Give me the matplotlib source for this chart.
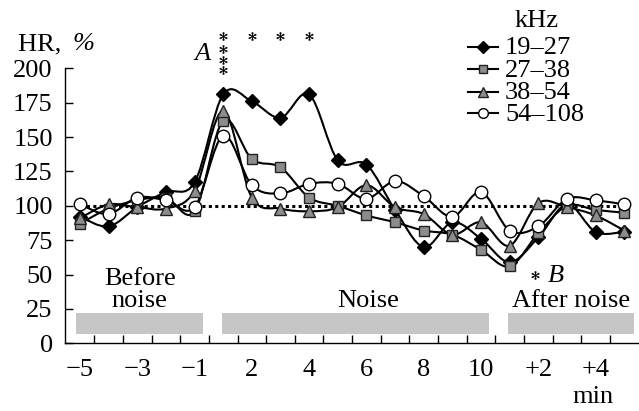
import matplotlib

matplotlib.use("Agg")
import matplotlib.pyplot as plt
import numpy as np
from matplotlib.lines import Line2D
from matplotlib.patches import PathPatch, Rectangle
from matplotlib.path import Path

plt.rcParams["font.family"] = ["Liberation Serif", "DejaVu Serif"]
plt.rcParams["mathtext.fontset"] = "stix"

# time points: 5 before noise, 10 during noise, 5 after noise
minutes = np.arange(20)
tick_pos = [0, 2, 4, 6, 8, 10, 12, 14, 16, 18]
tick_labels = ["\u22125", "\u22123", "\u22121", "2", "4", "6", "8", "10", "+2", "+4"]

hr_19_27 = [92, 85, 99, 110, 117, 181, 176, 164, 181, 133, 130, 97, 70, 88, 76, 59, 77, 101, 81, 81]
hr_27_38 = [87, 98, 104, 106, 96, 162, 134, 128, 106, 100, 93, 88, 82, 79, 68, 56, 80, 100, 97, 95]
hr_38_54 = [91, 101, 99, 98, 111, 169, 106, 98, 96, 99, 115, 99, 94, 79, 88, 71, 102, 99, 93, 82]
hr_54_108 = [101, 94, 106, 104, 99, 151, 115, 109, 116, 116, 105, 118, 107, 92, 110, 82, 85, 105, 104, 101]

series_labels = ["19\u201327", "27\u201338", "38\u201354", "54\u2013108"]
series_values = [hr_19_27, hr_27_38, hr_38_54, hr_54_108]

# period bars (start, end) in time-point units
periods = [(-0.14, 4.28), (4.96, 14.27), (14.95, 19.35)]

# significance stars
star_x = [5, 5, 5, 5, 6, 7, 8]
star_y = [198.6, 206.4, 214.4, 223.5, 223.5, 223.5, 223.5]

W, H = 639, 411


def fx(px):
    return px / W


def fy(py):
    return 1 - py / H


def smooth_path(xs, ys):
    pts = np.column_stack([xs, ys]).astype(float)
    n = len(pts)
    verts = [pts[0]]
    codes = [Path.MOVETO]
    for i in range(n - 1):
        p0 = pts[max(i - 1, 0)]
        p1 = pts[i]
        p2 = pts[i + 1]
        p3 = pts[min(i + 2, n - 1)]
        verts += [p1 + (p2 - p0) / 6, p2 - (p3 - p1) / 6, p2]
        codes += [Path.CURVE4] * 3
    return Path(verts, codes)


styles = [
    dict(marker="D", ms=7, mfc="black", mec="black"),
    dict(marker="s", ms=7, mfc="#8c8c8c", mec="#222222"),
    dict(marker="^", ms=9, mfc="#8c8c8c", mec="#222222"),
    dict(marker="o", ms=9, mfc="white", mec="black"),
]

fig = plt.figure(figsize=(6.39, 4.11), dpi=100)
ax = fig.add_axes([fx(64.5), fy(343.3), fx(638 - 64.5), (343.3 - 68.3) / H])

for x0, x1 in periods:
    ax.add_patch(Rectangle((x0, 7), x1 - x0, 15, facecolor="#c6c6c6", edgecolor="none"))

ax.plot([0, 19.1], [100, 100], color="black", lw=2.2, linestyle=(0, (1, 1.1)), zorder=2)

for vals in series_values:
    ax.add_patch(
        PathPatch(smooth_path(minutes, vals), facecolor="none", edgecolor="black", lw=1.5, zorder=3)
    )
for vals, st in zip(series_values, styles):
    ax.plot(minutes, vals, linestyle="none", mew=1.0, zorder=4, **st)

ax.set_xlim(-0.54, 19.48)
ax.set_ylim(0, 200)
ax.set_yticks(np.arange(0, 201, 25))
ax.set_xticks(tick_pos)
ax.set_xticklabels(tick_labels)
ax.set_xticks(np.arange(0.5, 19, 1), minor=True)
ax.spines["top"].set_visible(False)
ax.spines["right"].set_visible(False)
for sp in ("left", "bottom"):
    ax.spines[sp].set_linewidth(1.0)
ax.tick_params(axis="y", direction="in", length=6, width=1.0, pad=8.5, labelsize=19)
ax.tick_params(axis="x", which="major", length=0, pad=11, labelsize=19)
ax.tick_params(axis="x", which="minor", direction="in", length=6, width=1.0)

# stars
ax.plot(star_x, star_y, linestyle="none", marker="$*$", ms=6, mew=0.3, color="black", clip_on=False)
ax.plot([15.88], [49.7], linestyle="none", marker="$*$", ms=6, mew=0.3, color="black", clip_on=False)
ax.text(4.29, 206, "A", style="italic", fontsize=19, ha="center", va="baseline")
ax.text(16.6, 44.8, "B", style="italic", fontsize=19, ha="center", va="baseline")

ax.text(2.09, 42.4, "Before", fontsize=19, ha="center", va="baseline")
ax.text(2.09, 26.4, "noise", fontsize=19, ha="center", va="baseline")
ax.text(10.07, 26.6, "Noise", fontsize=19, ha="center", va="baseline")
ax.text(17.13, 26.6, "After noise", fontsize=19, ha="center", va="baseline")

fig.text(fx(18), fy(50), "HR, ", fontsize=19, ha="left", va="baseline")
fig.text(fx(72), fy(50), "%", fontsize=19, style="italic", ha="left", va="baseline")
fig.text(fx(593), fy(403), "min", fontsize=19, ha="center", va="baseline")

# legend
fig.text(fx(537), fy(27), "kHz", fontsize=19, ha="center", va="baseline")
leg_marker_y = [46.7, 69, 91.7, 113.3]
leg_sizes = [6, 5.5, 7, 7]
for lab, st, my, ms in zip(series_labels, styles, leg_marker_y, leg_sizes):
    st = dict(st)
    st["ms"] = ms
    fig.add_artist(
        Line2D([fx(468), fx(483), fx(498)], [fy(my)] * 3, color="black", lw=1.5,
               markevery=[1], mew=1.0, **st)
    )
    fig.text(fx(505), fy(my + 7.5), lab, fontsize=19, ha="left", va="baseline")

fig.savefig("out.png", dpi=100)
